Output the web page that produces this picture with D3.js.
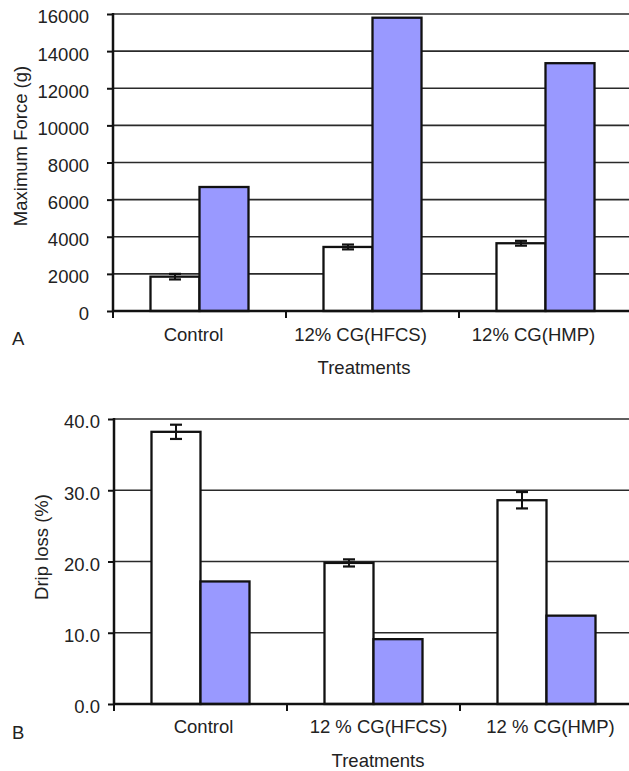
<!DOCTYPE html>
<html lang="en">
<head>
    <meta charset="UTF-8">
    <title>Maximum force and drip loss</title>
    <script src="https://d3js.org/d3.v7.min.js"></script>
    <style>
        body { margin: 0; background: white; }
        text { font-family: "Liberation Sans", Arial, sans-serif; fill: #222; }
    </style>
</head>
<body>
    <div id="chart"></div>

    <script>
        // data -----------------------------------------------------------
        const categoriesA = ["Control", "12% CG(HFCS)", "12% CG(HMP)"];
        const categoriesB = ["Control", "12 % CG(HFCS)", "12 % CG(HMP)"];
        const seriesNames = ["white", "blue"];

        const forceWhite = [1850, 3450, 3650];
        const forceWhiteErr = [150, 130, 130];
        const forceBlue = [6680, 15800, 13350];
        const forceTicks = [0, 2000, 4000, 6000, 8000, 10000, 12000, 14000, 16000];

        const dripWhite = [38.2, 19.8, 28.6];
        const dripWhiteErr = [1.0, 0.5, 1.15];
        const dripBlue = [17.2, 9.1, 12.4];
        const dripTicks = [0, 10, 20, 30, 40];

        const svg = d3.select("div#chart").append("svg")
            .attr("width", 629)
            .attr("height", 771);

        const fillColor = {white: "#ffffff", blue: "#9999ff"};
        const fontSize = 18.5;

        function drawPanel(opt) {
            const g = svg.append("g");
            const corner = opt.corner;

            const yScale = d3.scaleLinear().domain(opt.domain).range([corner.bottom, corner.top]);
            const xScale = d3.scaleBand().domain(opt.categories).range([corner.left, corner.left + 3 * 173]).padding(0);
            const subScale = d3.scaleBand().domain(seriesNames).range([0, xScale.bandwidth()])
                .paddingInner(0).paddingOuter(0.765);

            // gridlines
            opt.ticks.forEach((t) => {
                if (t === 0) return;
                g.append("line")
                    .attr("x1", corner.left)
                    .attr("x2", 629)
                    .attr("y1", yScale(t))
                    .attr("y2", yScale(t))
                    .attr("stroke", "#2a2a2a")
                    .attr("stroke-width", 1.7);
            });

            // bars
            opt.categories.forEach((c, i) => {
                const vals = {white: opt.white[i], blue: opt.blue[i]};
                seriesNames.forEach((s) => {
                    g.append("rect")
                        .attr("x", xScale(c) + subScale(s))
                        .attr("y", yScale(vals[s]))
                        .attr("width", subScale.bandwidth())
                        .attr("height", yScale(0) - yScale(vals[s]))
                        .attr("fill", fillColor[s])
                        .attr("stroke", "#111")
                        .attr("stroke-width", 2.3);
                });

                // error bar on the white bar
                const cx = xScale(c) + subScale("white") + subScale.bandwidth() / 2;
                const lo = yScale(opt.white[i] - opt.err[i]);
                const hi = yScale(opt.white[i] + opt.err[i]);
                g.append("line")
                    .attr("x1", cx).attr("x2", cx)
                    .attr("y1", lo).attr("y2", hi)
                    .attr("stroke", "#111").attr("stroke-width", 2);
                [lo, hi].forEach((yy) => {
                    g.append("line")
                        .attr("x1", cx - 6).attr("x2", cx + 6)
                        .attr("y1", yy).attr("y2", yy)
                        .attr("stroke", "#111").attr("stroke-width", 2.2);
                });
            });

            // y axis
            const yAxis = d3.axisLeft(yScale).tickValues(opt.ticks).tickFormat(opt.format)
                .tickSize(6).tickPadding(opt.labelPad);
            const yg = g.append("g").attr("transform", `translate(${corner.left},0)`).call(yAxis);
            yg.select(".domain").remove();
            yg.selectAll(".tick line").attr("stroke", "#111").attr("stroke-width", 2);
            yg.selectAll(".tick text").attr("font-size", fontSize).attr("dy", "0.48em")
                .style("font-family", "'Liberation Sans', Arial, sans-serif").attr("fill", "#222");
            g.append("line")
                .attr("x1", corner.left).attr("x2", corner.left)
                .attr("y1", corner.top - 1).attr("y2", corner.bottom)
                .attr("stroke", "#111").attr("stroke-width", 2.5);

            // x axis
            const xAxis = d3.axisBottom(xScale).tickSize(0).tickPadding(opt.catPad);
            const xg = g.append("g").attr("transform", `translate(0,${corner.bottom})`).call(xAxis);
            xg.select(".domain").remove();
            xg.selectAll(".tick text").attr("font-size", fontSize)
                .attr("dx", (d, i) => opt.labelShift[i])
                .style("font-family", "'Liberation Sans', Arial, sans-serif").attr("fill", "#222");
            g.append("line")
                .attr("x1", corner.left).attr("x2", 629)
                .attr("y1", corner.bottom).attr("y2", corner.bottom)
                .attr("stroke", "#111").attr("stroke-width", 2.5);
            // category separators
            opt.categories.forEach((c) => {
                const xx = xScale(c);
                g.append("line")
                    .attr("x1", xx).attr("x2", xx)
                    .attr("y1", corner.bottom).attr("y2", corner.bottom + 7)
                    .attr("stroke", "#111").attr("stroke-width", 2);
            });

            // titles
            g.append("text")
                .attr("transform", `translate(${opt.yTitleX},${opt.yTitleY}) rotate(-90)`)
                .attr("text-anchor", "middle")
                .attr("font-size", fontSize)
                .text(opt.yTitle);
            g.append("text")
                .attr("x", opt.xTitleX).attr("y", opt.xTitleY)
                .attr("text-anchor", "middle")
                .attr("font-size", fontSize)
                .text("Treatments");
            g.append("text")
                .attr("x", 12).attr("y", opt.letterY)
                .attr("font-size", fontSize)
                .text(opt.letter);
        }

        drawPanel({
            corner: {top: 14, bottom: 311, left: 113},
            domain: [0, 16000],
            ticks: forceTicks,
            format: d3.format("d"),
            labelPad: 18,
            categories: categoriesA,
            labelShift: [-6, -12, -12],
            white: forceWhite,
            blue: forceBlue,
            err: forceWhiteErr,
            catPad: 17,
            yTitle: "Maximum Force (g)",
            yTitleX: 27, yTitleY: 146,
            xTitleX: 364, xTitleY: 374,
            letter: "A", letterY: 345
        });

        drawPanel({
            corner: {top: 419, bottom: 704, left: 114},
            domain: [0, 40],
            ticks: dripTicks,
            format: d3.format(".1f"),
            labelPad: 8,
            categories: categoriesB,
            labelShift: [3, 5, 4],
            white: dripWhite,
            blue: dripBlue,
            err: dripWhiteErr,
            catPad: 16,
            yTitle: "Drip loss (%)",
            yTitleX: 48, yTitleY: 547,
            xTitleX: 378, xTitleY: 767,
            letter: "B", letterY: 739
        });
    </script>
</body>
</html>
